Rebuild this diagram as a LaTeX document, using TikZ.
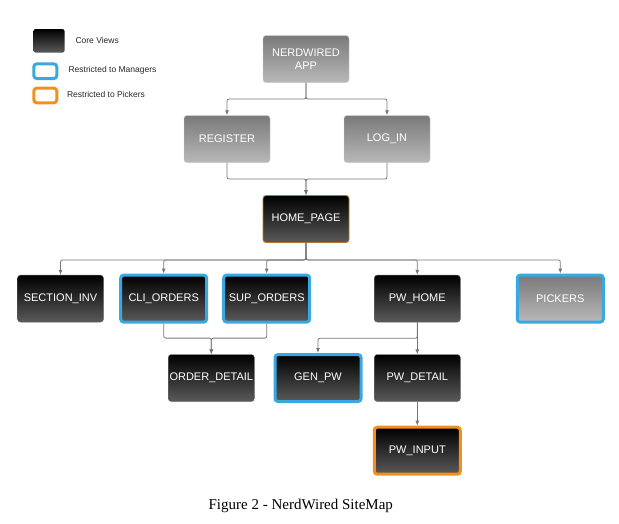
\documentclass[tikz,border=0pt]{standalone}
\usepackage{fontspec}
\setmainfont{Liberation Serif}
\newfontfamily\boxfont{Liberation Sans}
\usetikzlibrary{arrows.meta}
\definecolor{coretop}{HTML}{000000}
\definecolor{corebot}{HTML}{5A5A5A}
\definecolor{greytop}{HTML}{7A7A7A}
\definecolor{greybot}{HTML}{B8B8B8}
\definecolor{mgrblue}{HTML}{3AA8E0}
\definecolor{pckorange}{HTML}{F0901E}
\definecolor{homeedge}{HTML}{B87333}
\definecolor{linkgrey}{HTML}{777777}
\tikzset{
  view/.style={rectangle,rounded corners=3pt,minimum width=86pt,minimum height=47pt,
    inner sep=1pt,text=white,font=\boxfont\fontsize{11}{13}\selectfont,align=center},
  core/.style={view,top color=coretop,bottom color=corebot,draw=black!60,line width=0.4pt},
  entry/.style={view,top color=greytop,bottom color=greybot,draw=greybot!80,line width=0.4pt},
  mgr/.style={draw=mgrblue,line width=3pt},
  pck/.style={draw=pckorange,line width=3pt},
  link/.style={draw=linkgrey,line width=0.8pt,rounded corners=2pt,-{Latex[length=5pt,width=4pt]}},
  keytext/.style={anchor=west,font=\boxfont\fontsize{8.5}{10}\selectfont,text=black!85}
}
\begin{document}
\begin{tikzpicture}[x=1pt,y=-1pt]
\useasboundingbox (0,0) rectangle (619,523);
% legend
\node[rectangle,rounded corners=2pt,minimum width=31pt,minimum height=23.5pt,inner sep=0pt,
  top color=coretop,bottom color=corebot] (keycore) at (49,40.8) {};
\node[rectangle,rounded corners=3pt,minimum width=23pt,minimum height=14.7pt,inner sep=0pt,mgr] (keymgr) at (45.3,71.2) {};
\node[rectangle,rounded corners=3pt,minimum width=23pt,minimum height=14.7pt,inner sep=0pt,pck] (keypck) at (45.3,95.5) {};
\node[keytext] (keycoretxt) at (72,40) {Core Views};
\node[keytext] (keymgrtxt) at (65,70.5) {Restricted to Managers};
\node[keytext] (keypcktxt) at (63.5,94.5) {Restricted to Pickers};
% views
\node[entry] (app) at (306,59) {NERDWIRED\\APP};
\node[entry] (register) at (227,139) {REGISTER};
\node[entry] (login) at (387,139) {LOG\_IN};
\node[core,draw=homeedge,line width=0.8pt] (home) at (306,219) {HOME\_PAGE};
\node[core] (secinv) at (60.5,298.6) {SECTION\_INV};
\node[core,mgr] (cliord) at (163.7,298.6) {CLI\_ORDERS};
\node[core,mgr] (supord) at (266.7,298.6) {SUP\_ORDERS};
\node[core] (pwhome) at (417.3,298.6) {PW\_HOME};
\node[entry,mgr] (pickers) at (560.3,298.6) {PICKERS};
\node[core] (orddet) at (211.3,378) {ORDER\_DETAIL};
\node[core,mgr] (genpw) at (318,378) {GEN\_PW};
\node[core] (pwdetail) at (417.3,378) {PW\_DETAIL};
\node[core,pck] (pwinput) at (417.3,450.7) {PW\_INPUT};
% links
\draw[link] (app.south) -- ++(0,16.3) -| (register);
\draw[link] (app.south) -- ++(0,16.3) -| (login);
\draw[link] (register.south) -- ++(0,16.3) -| (home);
\draw[link] (login.south) -- ++(0,16.3) -| (home);
\draw[link] (home.south) -- ++(0,17) -| (secinv);
\draw[link] (home.south) -- ++(0,17) -| (cliord);
\draw[link] (home.south) -- ++(0,17) -| (supord);
\draw[link] (home.south) -- ++(0,17) -| (pwhome);
\draw[link] (home.south) -- ++(0,17) -| (pickers);
\draw[link] (cliord.south) -- ++(0,14.5) -| (orddet);
\draw[link] (supord.south) -- ++(0,14.5) -| (orddet);
\draw[link] (pwhome.south) -- ++(0,16) -| (genpw);
\draw[link] (pwhome) -- (pwdetail);
\draw[link] (pwdetail) -- (pwinput);
% caption
\node[font=\fontsize{15}{18}\selectfont] (caption) at (300.8,506) {Figure 2 - NerdWired SiteMap};
\end{tikzpicture}
\end{document}
